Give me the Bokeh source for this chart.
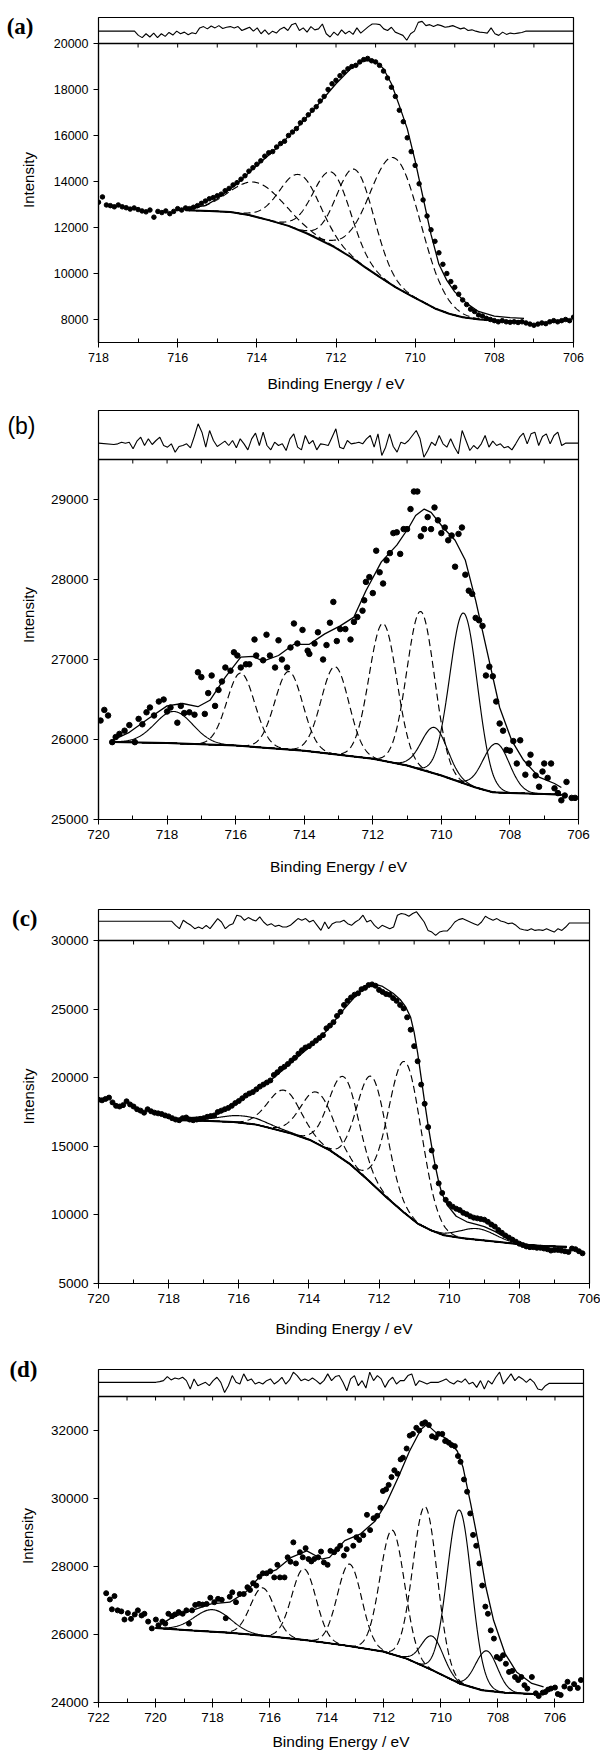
import numpy as np
from bokeh.plotting import figure
from bokeh.layouts import column
from bokeh.models import Range1d, LinearAxis, FixedTicker, Span
from bokeh.embed import file_html
from bokeh.resources import INLINE

# ======================= DATA =======================
# ---------- panel (a) ----------
a_xticks = [718, 716, 714, 712, 710, 708, 706]
a_yticks = [8000, 10000, 12000, 14000, 16000, 18000, 20000]
a_dots_x = [round(718.0 - 0.1 * i, 2) for i in range(121)]
a_dots_y = [13100, 13330, 12980, 12950, 12900, 12980, 12900, 12860, 12800, 12850,
            12780, 12720, 12680, 12760, 12450, 12700, 12650, 12720, 12600, 12700,
            12820, 12760, 12850, 12820, 12880, 12950, 13050, 13150, 13250, 13300,
            13380, 13450, 13600, 13700, 13850, 13950, 14100, 14250, 14450, 14600,
            14750, 14900, 15100, 15250, 15300, 15500, 15650, 15750, 16000, 16150,
            16300, 16550, 16700, 16900, 17100, 17250, 17500, 17700, 18000, 18250,
            18400, 18600, 18750, 18900, 19000, 19050, 19200, 19300, 19350, 19250,
            19200, 19050, 18800, 18500, 18100, 17700, 17100, 16600, 15900, 15300,
            14700, 13900, 13200, 12500, 11900, 11400, 10900, 10400, 10000, 9650,
            9400, 9100, 8850, 8650, 8450, 8350, 8200, 8150, 8050, 8000,
            7950, 7900, 7950, 7900, 7880, 7900, 7870, 7900, 7850, 7800,
            7750, 7800, 7850, 7820, 7900, 7950, 7900, 7950, 8000, 7950, 8100]
a_bg_x = [715.8, 715.2, 714.67, 714.2, 713.7, 713.2, 712.73, 712.05, 711.65, 711.27,
          710.9, 710.5, 710.1, 709.8, 709.5, 709.14, 708.8, 708.37, 707.8, 707.25]
a_bg_y = [12750, 12720, 12670, 12540, 12320, 12070, 11740, 11160, 10740, 10280,
          9850, 9410, 9030, 8760, 8480, 8250, 8100, 8000, 7940, 7910]
a_env_x = [715.8, 715.3, 715.0, 714.5, 714.0, 713.5, 713.0, 712.5, 712.0, 711.6, 711.3,
           711.0, 710.8, 710.6, 710.4, 710.2, 710.0, 709.8, 709.6, 709.4, 709.2, 709.0,
           708.7, 708.4, 708.0, 707.6, 707.25]
a_env_y = [12820, 12950, 13250, 13900, 14700, 15450, 16300, 17250, 18250, 18950, 19250,
           19250, 18900, 18250, 17300, 16300, 14900, 13300, 11700, 10400, 9700, 9200,
           8700, 8350, 8150, 8080, 8050]
a_pk_c = [714.0, 712.9, 712.1, 711.5, 710.5]
a_pk_h = [13950, 14280, 14400, 14500, 15000]
a_pk_w = [1.6, 1.2, 1.1, 1.1, 1.5]
a_pk_dash = [True, True, True, True, True]
a_res_lim = [717.09, 707.21]
a_res = [0, -13, -20, -8, -18, -6, -20, -8, -16, -4, -12, 0, -8, -3, -11, -5, -8, 10, 14, 7,
         16, 10, 17, 8, 12, 14, 10, 14, 2, 7, 12, 0, 10, -8, 4, -10, 0, -6, 6, 12,
         2, 20, 24, 2, 10, -3, 14, 4, 7, 22, -8, -18, -3, -13, 4, -8, 0, -10, 10, -6,
         4, 14, 22, 22, 20, 7, 2, 12, -3, -8, -13, -28, -8, 0, 27, 30, 17, 20, 14, 20,
         17, 12, 14, 17, 12, 7, 10, 2, 4, 0, -3, -4, -6, 10, -8, -13, -3, -10, -6, -8,
         -6, -4, 0]
a_res_flat = [0, 0]

# ---------- panel (b) ----------
b_xticks = [720, 718, 716, 714, 712, 710, 708, 706]
b_yticks = [25000, 26000, 27000, 28000, 29000]
b_dots_x = [719.94, 719.83, 719.72, 719.6, 719.5, 719.39, 719.24, 719.1, 718.94, 718.83,
            718.72, 718.6, 718.5, 718.38, 718.24, 718.1, 718.0, 717.9, 717.7, 717.6,
            717.5, 717.35, 717.2, 717.1, 717.0, 716.9, 716.8, 716.7, 716.6, 716.5,
            716.4, 716.3, 716.15, 716.05, 715.95, 715.85, 715.7, 715.6, 715.45, 715.4,
            715.2, 715.1, 715.0, 714.85, 714.75, 714.65, 714.5, 714.4, 714.3, 714.2,
            714.05, 713.9, 713.85, 713.7, 713.6, 713.45, 713.35, 713.25, 713.15, 713.05,
            712.95, 712.8, 712.65, 712.55, 712.45, 712.3, 712.25, 712.2, 712.1, 712.0,
            711.9, 711.8, 711.7, 711.6, 711.5, 711.4, 711.3, 711.2, 711.1, 711.0,
            710.9, 710.8, 710.7, 710.6, 710.5, 710.4, 710.3, 710.2, 710.1, 710.0,
            709.9, 709.8, 709.7, 709.6, 709.5, 709.4, 709.3, 709.2, 709.1, 709.0,
            708.9, 708.8, 708.7, 708.6, 708.5, 708.4, 708.3, 708.2, 708.1, 708.0,
            707.9, 707.8, 707.7, 707.55, 707.45, 707.4, 707.25, 707.15, 707.05, 707.0,
            706.9, 706.8, 706.7, 706.6, 706.5, 706.4, 706.35, 706.2, 706.1]
b_dots_y = [26237, 26370, 26300, 25967, 26030, 26070, 26110, 26180, 25967, 26258,
            26190, 26340, 26400, 26300, 26475, 26500, 26350, 26400, 26210, 26420,
            26330, 26340, 26310, 26840, 26780, 26320, 26580, 26800, 26420, 26620,
            26725, 26900, 26860, 27090, 27050, 26900, 26940, 26940, 27250, 27050,
            26990, 27310, 27050, 26900, 27240, 27000, 26900, 27150, 27450, 27200,
            27370, 27110, 27070, 27200, 27340, 27000, 27180, 27460, 27720, 27230,
            27380, 27380, 27250, 27470, 27530, 27610, 27740, 27970, 28030, 27830,
            28360, 28090, 27950, 28240, 28330, 28580, 28590, 28320, 28630, 28630,
            28880, 29100, 29100, 28540, 28630, 28780, 28630, 28900, 28740, 28580,
            28650, 28490, 28550, 28160, 28570, 28650, 28060, 27860, 27820, 27520,
            27490, 27420, 26800, 26910, 26790, 26475, 26200, 26110, 25870, 25860,
            25980, 25700, 25990, 25560, 25700, 25810, 25550, 25410, 25600, 25700,
            25520, 25700, 25390, 25330, 25240, 25300, 25470, 25270, 25270]
b_bg_x = [719.6, 718.0, 716.0, 714.0, 712.0, 711.0, 710.0, 709.0, 708.5, 708.0, 707.0, 706.5]
b_bg_y = [25970, 25955, 25925, 25860, 25760, 25675, 25550, 25400, 25340, 25330, 25320, 25310]
b_env_x = [719.6, 719.1, 718.55, 718.0, 717.55, 717.1, 716.75, 716.3, 715.85, 715.5, 715.2,
           714.75, 714.3, 713.85, 713.4, 712.95, 712.55, 712.2, 711.75, 711.3, 710.95,
           710.75, 710.5, 710.3, 709.95, 709.6, 709.3, 709.0, 708.65, 708.3, 707.95,
           707.6, 707.15, 706.7, 706.5]
b_env_y = [25990, 26090, 26260, 26420, 26450, 26410, 26490, 26780, 27030, 27040, 26980,
           27050, 27190, 27190, 27320, 27420, 27530, 27860, 28220, 28430, 28650,
           28800, 28880, 28840, 28650, 28490, 28240, 27740, 27070, 26400, 25990,
           25740, 25530, 25450, 25400]
b_pk_c = [717.8, 715.85, 714.45, 713.1, 711.7, 710.6, 710.2, 709.35, 708.4]
b_pk_h = [26350, 26830, 26850, 26910, 27450, 27600, 26150, 27580, 25950]
b_pk_w = [1.3, 0.95, 0.95, 0.95, 0.95, 0.95, 0.9, 0.95, 0.9]
b_pk_dash = [False, True, True, True, True, True, False, False, False]
b_res_lim = [719.55, 706.38]
b_res = [-4, -2, 3, 0, 3, -17, 6, 18, -7, 13, -4, 8, 18, -7, -12, -2, -27, -10, -7, -2,
         -14, 20, 58, 33, -12, 38, 8, -10, -2, 6, -7, 8, -14, 13, -2, -20, 13, 30, -7, 33,
         -7, -20, 3, -7, -2, -22, 13, 28, -12, -20, 23, -2, 8, -20, -2, -4, -7, 18, 43, -12,
         -17, 8, -2, 0, 3, -2, 13, 23, -12, 28, -37, -12, 28, -10, -27, 3, -2, 8, 23, 38,
         13, -42, -22, 3, -7, 23, -2, -12, 13, -12, -32, 38, 8, -22, -7, -17, -2, 23, -12, 6,
         -7, -2, -14, -10, -20, -2, 18, 30, -2, 28, 33, -7, 20, 28, -2, 23, 33, -7, 0]
b_res_flat = [0, 0]

# ---------- panel (c) ----------
c_xticks = [720, 718, 716, 714, 712, 710, 708, 706]
c_yticks = [5000, 10000, 15000, 20000, 25000, 30000]
c_dots_x = [round(720.0 - 0.1 * i, 2) for i in range(139)]
c_dots_y = [18400, 18350, 18450, 18550, 18200, 17950, 17900, 18000, 18280, 18050,
            17900, 17700, 17600, 17450, 17700, 17550, 17450, 17400, 17350, 17250,
            17180, 17050, 16950, 16900, 17050, 17100, 16950, 16900, 16950, 17000,
            17050, 17150, 17200, 17250, 17500, 17600, 17700, 17800, 17950, 18150,
            18300, 18500, 18700, 18850, 18950, 19150, 19350, 19500, 19650, 19800,
            20200, 20400, 20650, 20800, 21000, 21250, 21450, 21750, 22000, 22200,
            22300, 22500, 22700, 22900, 23100, 23600, 23800, 24050, 24500, 24800,
            25300, 25600, 25850, 26050, 26150, 26450, 26550, 26750, 26800, 26700,
            26400, 26250, 26100, 26050, 25800, 25600, 25300, 25050, 24400, 23500,
            22300, 21200, 19500, 18100, 16400, 14700, 13500, 12300, 11600, 11100,
            10800, 10600, 10450, 10350, 10150, 10050, 9900, 9800, 9750, 9700,
            9650, 9500, 9300, 9150, 8900, 8700, 8500, 8350, 8200, 8050,
            7900, 7800, 7700, 7650, 7650, 7600, 7600, 7550, 7500, 7400,
            7450, 7450, 7400, 7350, 7300, 7550, 7500, 7350, 7200]
c_bg_x = [717.7, 717.0, 716.15, 715.5, 715.05, 714.5, 713.95, 713.4, 712.85, 712.3, 711.8,
          711.3, 710.9, 710.5, 710.15, 709.6, 709.05, 708.5, 707.95, 707.3, 706.65]
c_bg_y = [16890, 16860, 16770, 16580, 16290, 15930, 15440, 14700, 13740, 12500, 11310,
          10200, 9370, 8850, 8520, 8290, 8150, 8000, 7850, 7730, 7670]
c_env_x = [717.7, 717.0, 716.5, 716.0, 715.5, 715.0, 714.5, 714.0, 713.5, 713.0, 712.6,
           712.3, 712.1, 711.9, 711.6, 711.4, 711.25, 711.1, 711.0, 710.9, 710.8, 710.7,
           710.6, 710.5, 710.4, 710.3, 710.2, 710.05, 709.8, 709.5, 709.2, 709.0, 708.7,
           708.4, 708.0, 707.5, 706.7]
c_env_y = [17050, 17150, 17450, 18250, 19100, 20000, 21100, 22200, 23400, 25000, 26150,
           26700, 26800, 26650, 26150, 25700, 25200, 24400, 23300, 21800, 20000, 18200,
           16500, 15000, 13600, 12400, 11500, 10700, 9900, 9500, 9300, 9150, 8800,
           8350, 7950, 7750, 7650]
c_pk_c = [715.85, 714.7, 713.75, 713.0, 712.2, 711.25, 709.2]
c_pk_h = [17200, 19080, 18910, 20050, 20050, 21140, 9000]
c_pk_w = [1.6, 1.1, 1.1, 1.0, 1.0, 1.1, 1.2]
c_pk_dash = [False, True, True, True, True, True, False]
c_res_lim = [717.91, 706.57]
c_res = [0, -12, -22, 3, -5, -12, -22, -17, -22, -12, -22, -7, 8, -2, -22, -12, -7, 18, 15, 3,
         11, 5, 1, 13, -2, -12, -7, -15, -12, -17, -17, -12, -2, 8, 3, 8, -2, 3, -12, -27,
         -2, -22, -7, -2, -2, 3, -7, -12, -2, 5, 18, -2, 3, -12, -22, -12, -17, -22, -17, 18,
         23, 21, 15, 23, 28, 13, -2, -27, -32, -42, -32, -29, -29, -17, -2, 5, 8, 3, -2, -7,
         -12, -2, 15, 8, 3, 8, 1, -2, -7, -5, -12, -22, -25, -27, -22, -27, -25, -27, -22, -27,
         -32, -22, -27, -17, -5]
c_res_flat = [0, -5]

# ---------- panel (d) ----------
d_xticks = [722, 720, 718, 716, 714, 712, 710, 708, 706]
d_yticks = [24000, 26000, 28000, 30000, 32000]
d_dots_x = [721.73, 721.6, 721.53, 721.44, 721.33, 721.2, 721.09, 720.97, 720.86, 720.73,
            720.62, 720.49, 720.39, 720.26, 720.13, 719.99, 719.9, 719.76, 719.66, 719.55,
            719.42, 719.32, 719.19, 719.05, 718.92, 718.83, 718.72, 718.61, 718.48, 718.35,
            718.21, 718.08, 717.94, 717.81, 717.68, 717.54, 717.4, 717.31, 717.18, 717.05,
            716.91, 716.78, 716.69, 716.58, 716.47, 716.36, 716.24, 716.11, 715.98, 715.84,
            715.73, 715.64, 715.48, 715.37, 715.27, 715.17, 715.08, 714.94, 714.84, 714.74,
            714.64, 714.54, 714.44, 714.3, 714.2, 714.1, 713.97, 713.87, 713.74, 713.63,
            713.53, 713.4, 713.3, 713.19, 713.07, 712.96, 712.86, 712.72, 712.59, 712.48,
            712.36, 712.23, 712.12, 712.03, 711.92, 711.83, 711.73, 711.63, 711.52, 711.41,
            711.33, 711.2, 711.09, 710.98, 710.86, 710.76, 710.65, 710.55, 710.42, 710.31,
            710.18, 710.09, 709.95, 709.85, 709.72, 709.62, 709.51, 709.4, 709.31, 709.19,
            709.08, 708.97, 708.87, 708.76, 708.65, 708.55, 708.44, 708.35, 708.25, 708.14,
            708.04, 707.93, 707.82, 707.72, 707.61, 707.5, 707.4, 707.29, 707.18, 707.07,
            706.97, 706.81, 706.67, 706.57, 706.43, 706.34, 706.24, 706.14, 706.0, 705.9,
            705.8, 705.67, 705.56, 705.47, 705.33, 705.2, 705.09]
d_dots_y = [27215, 27030, 26740, 27130, 26710, 26680, 26440, 26630, 26460, 26590,
            26710, 26560, 26610, 26380, 26180, 26440, 26270, 26380, 26320, 26610,
            26540, 26590, 26660, 26610, 26710, 26320, 26710, 26870, 26900, 26880,
            26900, 27080, 26950, 27050, 27020, 26480, 27110, 27240, 26950, 27190,
            27190, 27390, 27310, 27510, 27440, 27700, 27800, 27800, 27860, 27680,
            28050, 27680, 27680, 28270, 28140, 28710, 28090, 28420, 28270, 28540,
            28220, 28150, 28220, 28270, 28440, 28120, 28050, 28460, 28420, 28510,
            28610, 28320, 28510, 29050, 28610, 28860, 28780, 28920, 29520, 29070,
            29420, 29490, 29730, 30220, 30270, 30400, 30630, 30830, 30730, 31150,
            31200, 31470, 31850, 31900, 32080, 32000, 32200, 32240, 32160, 31830,
            31790, 31900, 31900, 31690, 31640, 31570, 31540, 31250, 31080, 30560,
            30200, 29560, 28930, 28610, 28090, 27440, 26820, 26610, 26120, 25880,
            25340, 25290, 25390, 25140, 24900, 24930, 24750, 24660, 24750, 24510,
            24410, 24750, 24270, 24190, 24290, 24310, 24380, 24410, 24440, 24250,
            24220, 24470, 24610, 24410, 24540, 24430, 24660]
d_bg_x = [720.0, 718.72, 717.4, 716.04, 714.7, 713.37, 712.03, 711.2, 710.3, 709.35,
          708.55, 707.75, 706.55]
d_bg_y = [26190, 26120, 26050, 25950, 25830, 25680, 25500, 25290, 24950, 24560,
          24360, 24290, 24240]
d_env_x = [719.93, 719.4, 718.72, 718.05, 717.4, 716.85, 716.31, 715.78, 715.24, 714.7,
           714.17, 713.9, 713.37, 712.83, 712.3, 711.9, 711.5, 711.1, 710.7, 710.49,
           710.16, 709.76, 709.42, 709.22, 708.95, 708.68, 708.42, 708.15, 707.75,
           707.35, 706.81, 706.4]
d_env_y = [26240, 26510, 26710, 26900, 26950, 27240, 27730, 27900, 28270, 28460,
           28220, 28270, 28760, 28950, 29340, 29880, 30610, 31390, 32030, 32180,
           31930, 31740, 31390, 30910, 29830, 28660, 27390, 26410, 25440,
           24900, 24560, 24460]
d_pk_c = [718.0, 716.25, 714.8, 713.2, 711.7, 710.55, 710.3, 709.35, 708.4]
d_pk_h = [26730, 27370, 27930, 28070, 29070, 29760, 25950, 29660, 25520]
d_pk_w = [1.5, 1.0, 1.0, 1.0, 1.0, 1.0, 0.9, 1.0, 0.9]
d_pk_dash = [False, True, True, True, True, True, False, False, False]
d_res_lim = [719.99, 706.2]
d_res = [0, 2, 5, 17, 7, 13, 10, 15, 5, -20, 10, -10, -5, 0, -10, 5, 15, 0, -30, -10,
         20, 0, -5, 25, 5, 10, -5, 0, -5, 5, 10, -5, 3, 15, -5, 7, 30, 20, 5, 10,
         5, 13, 5, -5, 5, 25, 5, 17, 20, 0, -25, 10, 20, -10, 5, -17, 30, 5, 20, 10,
         -15, 5, 15, -5, 5, 5, 20, 25, -10, 5, 0, -5, 0, 0, 0, 5, 10, 0, -5, 5,
         0, 10, -5, 0, -15, 5, -20, 5, -5, 15, 30, -5, 10, 25, 5, 17, 10, 0, 10, 0,
         -20, -23, -10, -3]
d_res_flat = [0, -3]

XLABEL = "Binding Energy / eV"
YLABEL = "Intensity"


# ======================= DRAWING =======================
def build(tag, xlim, ylim, rlim, strip_h, main_h, left, frame_w, top, bottom,
          xticks, yticks, tick_fs, title_standoff, ylab_standoff, dots_x, dots_y, dot_size,
          bg_x, bg_y, env_x, env_y, pk_c, pk_h, pk_w, pk_dash,
          res_lim, res, res_flat, tag_font, tag_style, tag_right, tag_cy):
    y0, y1 = ylim
    ytop = y1 + (y1 - y0) * strip_h / main_h
    r0, r1 = rlim
    rbot = r0 - (r1 - r0) * main_h / strip_h
    H = strip_h + main_h
    p = figure(frame_width=frame_w, frame_height=H,
               min_border_left=left, min_border_right=600 - left - frame_w,
               min_border_top=top, min_border_bottom=bottom,
               x_range=Range1d(xlim[0], xlim[1]), y_range=Range1d(y0, ytop),
               toolbar_location=None, output_backend="svg")
    p.extra_y_ranges = {"res": Range1d(rbot, r1)}
    p.grid.visible = False
    p.outline_line_color = "black"
    p.outline_line_alpha = 1.0
    p.outline_line_width = 1.2
    p.background_fill_color = "white"
    p.border_fill_color = "white"

    lo, hi = int(min(xlim)), int(max(xlim))
    xminor = list(range(lo, hi + 1))
    fs = float(tick_fs.replace("px", ""))

    xa = p.xaxis[0]
    xa.ticker = FixedTicker(ticks=xticks, minor_ticks=xminor)
    xa.major_tick_out = 5
    xa.major_tick_in = 0
    xa.minor_tick_in = 4
    xa.minor_tick_out = 0
    xa.axis_line_color = "black"
    xa.axis_line_width = 1.2
    xa.major_tick_line_color = "black"
    xa.minor_tick_line_color = "black"
    xa.major_label_text_font = "Liberation Sans"
    xa.major_label_text_font_size = tick_fs
    xa.major_label_text_color = "black"
    xa.major_label_standoff = 5
    xa.axis_label = XLABEL
    xa.axis_label_text_font = "Liberation Sans"
    xa.axis_label_text_font_size = "15.5px"
    xa.axis_label_text_font_style = "normal"
    xa.axis_label_text_color = "black"
    xa.axis_label_standoff = title_standoff

    ya = p.yaxis[0]
    ya.ticker = FixedTicker(ticks=yticks, minor_ticks=[])
    ya.bounds = (y0, y1)
    ya.major_tick_out = 5
    ya.major_tick_in = 0
    ya.axis_line_color = "black"
    ya.axis_line_width = 1.2
    ya.major_tick_line_color = "black"
    ya.major_label_text_font = "Liberation Sans"
    ya.major_label_text_font_size = tick_fs
    ya.major_label_text_color = "black"
    ya.major_label_standoff = 5
    ya.axis_label = YLABEL
    ya.axis_label_text_font = "Liberation Sans"
    ya.axis_label_text_font_size = "15px"
    ya.axis_label_text_font_style = "normal"
    ya.axis_label_text_color = "black"
    ya.axis_label_standoff = ylab_standoff

    # panel tag: the only label of an extra left axis on the residual range,
    # stacked outside the intensity axis (negative standoff pulls it toward the frame)
    main_axis_size = 5 + 5 + 5 * 0.556 * fs + ylab_standoff + 17.5
    r_tag = r1 - (r1 - rbot) * tag_cy / H
    r_tag = int(round(min(r_tag, r1)))
    tg = LinearAxis(y_range_name="res",
                    ticker=FixedTicker(ticks=[r_tag], minor_ticks=[]),
                    major_label_overrides={r_tag: tag},
                    major_tick_in=0, major_tick_out=0, minor_tick_in=0, minor_tick_out=0,
                    axis_line_color=None, major_tick_line_color=None,
                    minor_tick_line_color=None,
                    major_label_standoff=int(round(left - main_axis_size - tag_right)),
                    major_label_text_font=tag_font, major_label_text_font_size="23px",
                    major_label_text_font_style=tag_style, major_label_text_color="black")
    p.add_layout(tg, "left")

    p.add_layout(Span(location=y1, dimension="width", line_color="black", line_width=1.3))

    # inward ticks hanging from the separator (one per eV)
    tick_len = (ytop - y0) / H * 4.0
    p.segment(x0=xminor, y0=[y1] * len(xminor), x1=xminor, y1=[y1 - tick_len] * len(xminor),
              line_color="black", line_width=1)

    # residual strip
    rx = [xlim[0]] + list(np.linspace(res_lim[0], res_lim[1], len(res))) + [xlim[1]]
    ry = [res_flat[0]] + list(res) + [res_flat[1]]
    p.line(rx, ry, y_range_name="res", line_color="black", line_width=1.1)

    # background, components, envelope
    bxs = np.array(bg_x[::-1])
    bys = np.array(bg_y[::-1])
    xs = np.linspace(bxs[0], bxs[-1], 600)
    bgs = np.interp(xs, bxs, bys)
    for c, h, w, dsh in zip(pk_c, pk_h, pk_w, pk_dash):
        amp = h - np.interp(c, bxs, bys)
        ys = bgs + amp * np.exp(-4 * np.log(2) * (xs - c) ** 2 / w ** 2)
        p.line(xs, ys, line_color="black", line_width=1.15,
               line_dash="7 4" if dsh else "solid")
    p.line(bg_x, bg_y, line_color="black", line_width=2)
    p.line(env_x, env_y, line_color="black", line_width=1.3)

    n = min(len(dots_x), len(dots_y))
    p.scatter(dots_x[:n], dots_y[:n], size=dot_size, color="black")
    return p


pa = build("(a)", (718, 706), (7000, 20000), (-38, 42), 26, 299, 97, 475, 17, 63,
           a_xticks, a_yticks, "12.5px", 10, 14, a_dots_x, a_dots_y, 4.5,
           a_bg_x, a_bg_y, a_env_x, a_env_y, a_pk_c, a_pk_h, a_pk_w, a_pk_dash,
           a_res_lim, a_res, a_res_flat, "Liberation Serif", "bold", 38, 9.5)
pb = build("(b)", (720, 706), (25000, 29500), (-49, 98), 49, 360, 96, 480, 5, 80,
           b_xticks, b_yticks, "13.5px", 16, 11, b_dots_x, b_dots_y, 5.5,
           b_bg_x, b_bg_y, b_env_x, b_env_y, b_pk_c, b_pk_h, b_pk_w, b_pk_dash,
           b_res_lim, b_res, b_res_flat, "Liberation Sans", "normal", 39, 15)
pc = build("(c)", (720, 706), (5000, 30000), (-57, 35), 31, 343, 95, 491, 10, 61,
           c_xticks, c_yticks, "13.5px", 14, 11, c_dots_x, c_dots_y, 5,
           c_bg_x, c_bg_y, c_env_x, c_env_y, c_pk_c, c_pk_h, c_pk_w, c_pk_dash,
           c_res_lim, c_res, c_res_flat, "Liberation Serif", "bold", 40, 9)
pd = build("(d)", (722, 705), (24000, 33000), (-42, 38), 27, 306, 98, 485, 25, 52,
           d_xticks, d_yticks, "13.5px", 8, 12, d_dots_x, d_dots_y, 5,
           d_bg_x, d_bg_y, d_env_x, d_env_y, d_pk_c, d_pk_h, d_pk_w, d_pk_dash,
           d_res_lim, d_res, d_res_flat, "Liberation Serif", "bold", 43, -5)

layout = column(pa, pb, pc, pd, spacing=0)
open("out.html", "w").write(file_html(layout, INLINE))
